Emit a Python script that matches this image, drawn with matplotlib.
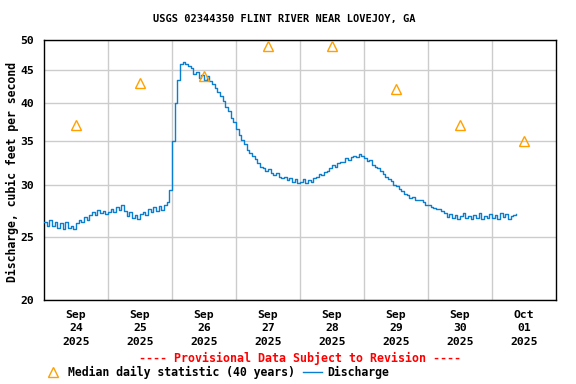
import numpy as np
import pandas as pd
import matplotlib
matplotlib.use("Agg")
import matplotlib.pyplot as plt
from matplotlib.lines import Line2D

title = "USGS 02344350 FLINT RIVER NEAR LOVEJOY, GA"
ylabel = "Discharge, cubic feet per second"

# hourly discharge (cfs), starting Sep 24 00:00
discharge = [
    # Sep 24
    26.3, 26.0, 26.5, 26.0, 26.3, 25.8, 26.2, 25.7, 26.3, 25.8, 26.0, 25.7,
    26.2, 26.5, 26.3, 26.8, 26.5, 27.0, 27.3, 27.0, 27.5, 27.2, 27.4, 27.1,
    # Sep 25
    27.3, 27.6, 27.3, 27.8, 27.5, 28.0, 27.4, 26.9, 27.3, 26.7, 27.0, 26.6,
    27.1, 27.3, 27.0, 27.6, 27.3, 27.8, 27.4, 27.9, 27.5, 28.0, 28.3, 29.5,
    # Sep 26
    35.0, 40.0, 43.5, 46.0, 46.2, 45.9, 45.6, 45.3, 44.4, 44.6, 43.8, 44.2,
    43.5, 44.0, 43.2, 42.8, 42.2, 41.6, 41.0, 40.3, 39.5, 38.9, 38.0, 37.4,
    # Sep 27
    36.5, 35.8, 35.2, 34.6, 33.9, 33.6, 33.2, 32.9, 32.4, 32.0, 31.8, 31.5,
    31.7, 31.3, 31.1, 31.3, 30.9, 30.7, 30.9, 30.5, 30.7, 30.3, 30.6, 30.2,
    # Sep 28
    30.3, 30.6, 30.2, 30.5, 30.3, 30.7, 30.9, 31.2, 31.1, 31.4, 31.5, 31.9,
    32.2, 32.0, 32.4, 32.5, 32.5, 33.0, 32.8, 33.1, 33.2, 33.1, 33.4, 33.2,
    # Sep 29
    33.0, 32.6, 32.8, 32.2, 32.0, 31.8, 31.5, 31.2, 30.9, 30.6, 30.4, 30.0,
    29.9, 29.6, 29.4, 29.1, 29.0, 28.7, 28.8, 28.5, 28.5, 28.5, 28.3, 28.0,
    # Sep 30
    28.0, 27.8, 27.7, 27.6, 27.6, 27.4, 27.2, 26.8, 27.1, 26.7, 27.0, 26.6,
    26.9, 27.2, 26.7, 26.9, 26.6, 27.0, 26.7, 27.2, 26.6, 26.9, 26.7, 27.1,
    # Oct 01
    26.7, 27.0, 26.6, 27.2, 26.8, 27.1, 26.6, 26.9, 27.0, 27.1,
]

days = ["2025-09-24", "2025-09-25", "2025-09-26", "2025-09-27",
        "2025-09-28", "2025-09-29", "2025-09-30", "2025-10-01"]
median_daily = [37, 43, 44, 49, 49, 42, 37, 35]
day_labels = ["Sep\n24\n2025", "Sep\n25\n2025", "Sep\n26\n2025", "Sep\n27\n2025",
              "Sep\n28\n2025", "Sep\n29\n2025", "Sep\n30\n2025", "Oct\n01\n2025"]
yticks = [20, 25, 30, 35, 40, 45, 50]

mono = "DejaVu Sans Mono"
blue = "#0a7fd0"
orange = "#ffa000"


def main():
    times = pd.date_range("2025-09-24 00:00", periods=len(discharge), freq="h")
    midnights = pd.to_datetime(days)
    noons = midnights + pd.Timedelta(hours=12)

    fig = plt.figure(figsize=(5.76, 3.84), dpi=100)
    ax = fig.add_axes([44 / 576, 1 - 300 / 384, 512 / 576, 260 / 384])

    ax.plot(times, discharge, color=blue, lw=1.0, drawstyle="steps-post", zorder=3)
    ax.plot(noons, median_daily, ls="none", marker="^", ms=7, mfc="none",
            mec=orange, mew=1.0, zorder=4, clip_on=False)

    ax.set_yscale("log")
    ax.set_ylim(20, 50)
    ax.set_yticks(yticks)
    ax.set_yticklabels([str(v) for v in yticks], family=mono, weight="bold", fontsize=8.2)
    ax.minorticks_off()
    ax.set_yticks(yticks)

    ax.set_xlim(midnights[0], midnights[-1] + pd.Timedelta(days=1))
    ax.set_xticks(noons)
    ax.set_xticklabels(day_labels, family=mono, weight="bold", fontsize=8.2,
                       linespacing=1.45)
    ax.set_xticks(midnights[1:], minor=True)
    ax.tick_params(axis="both", which="both", length=0, pad=7)

    ax.grid(True, which="minor", axis="x", color="#cccccc", lw=1)
    ax.grid(True, which="major", axis="y", color="#cccccc", lw=1)
    for s in ax.spines.values():
        s.set_color("black")
        s.set_linewidth(1)

    fig.text(12 / 576, 1 - 172 / 384, ylabel, rotation=90, ha="center", va="center",
             family=mono, weight="bold", fontsize=8.3)
    fig.text(284 / 576, 1 - 19 / 384, title, ha="center", va="center",
             family=mono, weight="bold", fontsize=7.45)

    fig.text(300 / 576, 1 - 358 / 384, "---- Provisional Data Subject to Revision ----",
             ha="center", va="center", color="red", family=mono, weight="bold",
             fontsize=8.4)

    handles = [
        Line2D([], [], ls="none", marker="^", ms=7, mfc="none", mec=orange, mew=1.0),
        Line2D([], [], color=blue, lw=1.0),
    ]
    fig.legend(handles, ["Median daily statistic (40 years)", "Discharge"],
               loc="center left", bbox_to_anchor=(44 / 576, 1 - 372 / 384),
               ncol=2, frameon=False, handlelength=1.6, handletextpad=0.5,
               columnspacing=0.7, borderpad=0, borderaxespad=0,
               prop={"family": mono, "weight": "bold", "size": 8.3})

    fig.savefig("out.png", dpi=100)


if __name__ == "__main__":
    main()
